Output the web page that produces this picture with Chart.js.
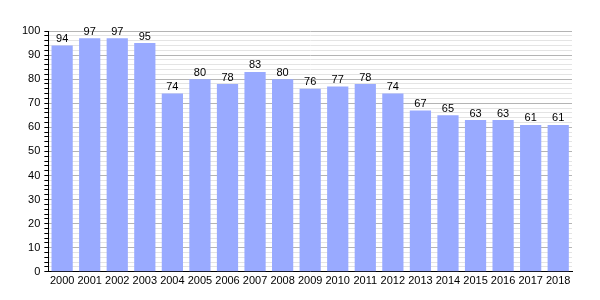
<!DOCTYPE html>
<html>
<head>
<meta charset="utf-8">
<script src="https://cdn.jsdelivr.net/npm/chart.js@4.4.0/dist/chart.umd.min.js"></script>
<style>
  html, body { margin: 0; padding: 0; background: #fff; }
  #wrap { width: 600px; height: 300px; }
</style>
</head>
<body>
<div id="wrap"><canvas id="chart" width="600" height="300"></canvas></div>
<script>
var years = ['2000', '2001', '2002', '2003', '2004', '2005', '2006', '2007', '2008', '2009',
  '2010', '2011', '2012', '2013', '2014', '2015', '2016', '2017', '2018'];
var values = [94, 97, 97, 95, 74, 80, 78, 83, 80, 76, 77, 78, 74, 67, 65, 63, 63, 61, 61];
var yMin = 0;
var yMax = 100;

// numbers above each bar
var barLabels = {
  id: 'barLabels',
  afterDatasetsDraw: function (chart) {
    var ctx = chart.ctx;
    var meta = chart.getDatasetMeta(0);
    ctx.save();
    ctx.fillStyle = '#000';
    ctx.font = '11px "Liberation Sans", Arial, sans-serif';
    ctx.textAlign = 'center';
    ctx.textBaseline = 'bottom';
    meta.data.forEach(function (bar, i) {
      ctx.fillText(String(values[i]), bar.x, bar.y - 1);
    });
    ctx.restore();
  }
};

new Chart(document.getElementById('chart'), {
  type: 'bar',
  data: {
    labels: years,
    datasets: [{
      data: values,
      backgroundColor: '#99aaff',
      borderWidth: 0,
      barPercentage: 0.77,
      categoryPercentage: 1.0
    }]
  },
  options: {
    responsive: false,
    animation: false,
    layout: { padding: { left: 18, right: 28, top: 31, bottom: 9 } },
    plugins: { legend: { display: false }, tooltip: { enabled: false } },
    scales: {
      x: {
        grid: { display: false, drawTicks: false },
        border: { color: '#000', width: 1 },
        ticks: {
          color: '#000',
          padding: 3,
          maxRotation: 0,
          autoSkip: false,
          font: { family: '"Liberation Sans", Arial, sans-serif', size: 11 }
        }
      },
      y: {
        min: yMin,
        max: yMax,
        border: { color: '#000', width: 1 },
        grid: {
          color: function (c) { return c.tick.value % 10 === 0 ? '#b4b4b4' : '#e4e4e4'; },
          tickColor: '#000',
          tickLength: 4
        },
        ticks: {
          stepSize: 2,
          autoSkip: false,
          color: '#000',
          padding: 4,
          font: { family: '"Liberation Sans", Arial, sans-serif', size: 11 },
          callback: function (v) { return v % 10 === 0 ? v : ''; }
        }
      }
    }
  },
  plugins: [barLabels]
});
</script>
</body>
</html>
